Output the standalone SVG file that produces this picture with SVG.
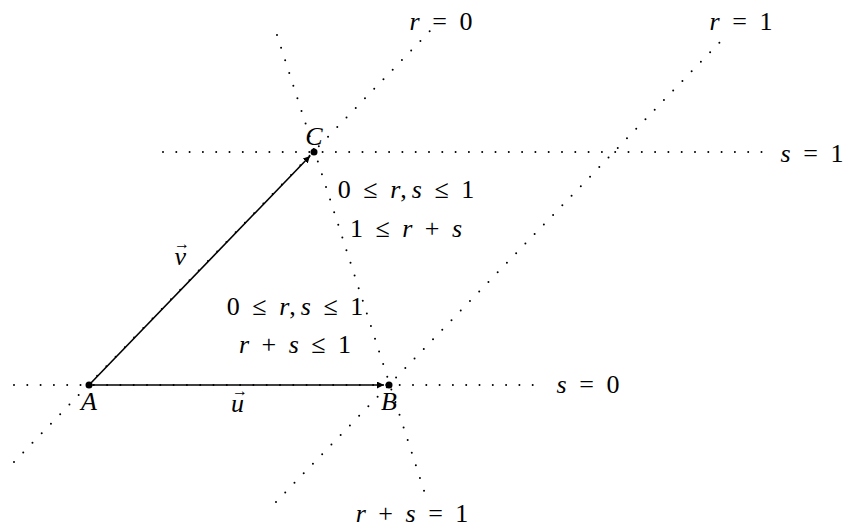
<svg xmlns="http://www.w3.org/2000/svg" width="844" height="528" viewBox="0 0 844 528">
<style>
.dot{fill:none;stroke:#000;stroke-width:2;stroke-linecap:round;stroke-dasharray:0 13.3}
.vec{fill:none;stroke:#000;stroke-width:1.6}
text{font-family:"Liberation Serif","DejaVu Serif",serif;font-size:26px;fill:#000;word-spacing:6px}
.i{font-style:italic}
.arr{font-size:16px;font-style:normal}
</style>
<defs>
<marker id="ah" viewBox="0 0 10 10" refX="10" refY="5" markerWidth="7" markerHeight="7" markerUnits="userSpaceOnUse" orient="auto">
<path d="M0,0 L10,5 L0,10 Z" fill="#000"/>
</marker>
</defs>
<rect width="844" height="528" fill="#fff"/>
<g id="connectors">
<line class="dot" x1="14" y1="385" x2="540" y2="385"/>
<line class="dot" x1="163" y1="152" x2="765" y2="152"/>
<line class="dot" x1="14" y1="462" x2="430" y2="31"/>
<line class="dot" x1="276" y1="502" x2="720" y2="42"/>
<line class="dot" x1="277" y1="35" x2="428" y2="503"/>
<line class="vec" x1="89" y1="385" x2="384" y2="385" marker-end="url(#ah)"/>
<line class="vec" x1="89" y1="385" x2="310" y2="156" marker-end="url(#ah)"/>
</g>
<g id="A"><circle cx="89" cy="385" r="3.5"/><text class="i" x="89" y="410" text-anchor="middle">A</text></g>
<g id="B"><circle cx="389" cy="385" r="3.5"/><text class="i" x="389" y="410" text-anchor="middle">B</text></g>
<g id="C"><circle cx="314" cy="152" r="3.5"/><text class="i" x="314" y="145" text-anchor="middle">C</text></g>
<g id="u-label"><text class="i" x="231" y="412">u<tspan class="arr" dx="-12" dy="-16">→</tspan></text></g>
<g id="v-label"><text class="i" x="174" y="265">v<tspan class="arr" dx="-12" dy="-16">→</tspan></text></g>
<g id="label-r0"><text x="441" y="30" text-anchor="middle"><tspan class="i">r</tspan> = 0</text></g>
<g id="label-r1"><text x="741" y="30" text-anchor="middle"><tspan class="i">r</tspan> = 1</text></g>
<g id="label-s1"><text x="812" y="162" text-anchor="middle"><tspan class="i">s</tspan> = 1</text></g>
<g id="label-s0"><text x="588" y="393" text-anchor="middle"><tspan class="i">s</tspan> = 0</text></g>
<g id="label-rs1"><text x="412" y="522" text-anchor="middle"><tspan class="i">r</tspan> + <tspan class="i">s</tspan> = 1</text></g>
<g id="region-upper">
<text x="406" y="198" text-anchor="middle">0 ≤ <tspan class="i">r</tspan>,<tspan class="i" dx="5">s</tspan> ≤ 1</text>
<text x="406" y="237" text-anchor="middle">1 ≤ <tspan class="i">r</tspan> + <tspan class="i">s</tspan></text>
</g>
<g id="region-lower">
<text x="295" y="315" text-anchor="middle">0 ≤ <tspan class="i">r</tspan>,<tspan class="i" dx="5">s</tspan> ≤ 1</text>
<text x="295" y="353" text-anchor="middle"><tspan class="i">r</tspan> + <tspan class="i">s</tspan> ≤ 1</text>
</g>
</svg>
